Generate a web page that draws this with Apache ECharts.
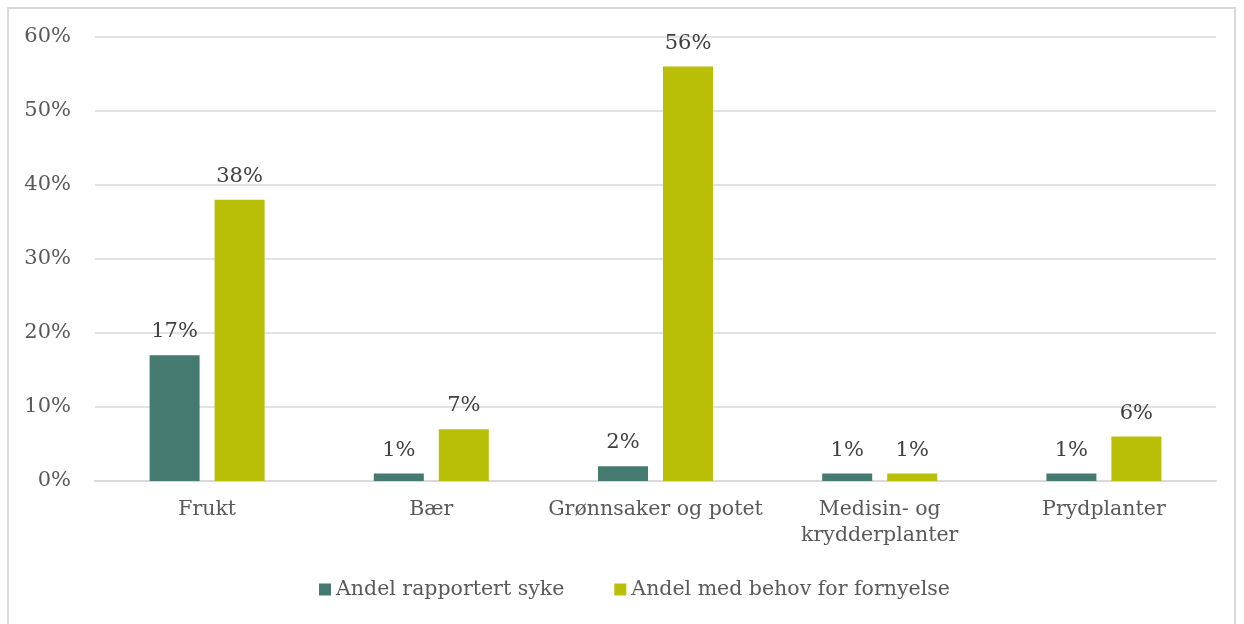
<!DOCTYPE html>
<html><head><meta charset="utf-8">
<script src="https://cdn.jsdelivr.net/npm/echarts@6/dist/echarts.min.js"></script>
<style>html,body{margin:0;padding:0;background:#fff}#c{width:1244px;height:624px}
#frame{position:absolute;left:7px;top:7px;width:1229px;height:620px;border:2px solid #d9d9d9;box-sizing:border-box;pointer-events:none}</style>
</head><body><div id="c"></div><div id="frame"></div>
<script>
const categories = ['Frukt', 'Bær', 'Grønnsaker og potet', 'Medisin- og\nkrydderplanter', 'Prydplanter'];
const seriesNames = ['Andel rapportert syke', 'Andel med behov for fornyelse'];
const sykeValues = [17, 1, 2, 1, 1];
const fornyelseValues = [38, 7, 56, 1, 6];
const yTicks = [0, 10, 20, 30, 40, 50, 60];

const FONT = 'DejaVu Serif';
const chart = echarts.init(document.getElementById('c'));
const labelCfg = {show: true, position: 'top', distance: 13, color: '#404040', fontFamily: FONT, fontSize: 21, formatter: p => p.value + '%'};
chart.setOption({
  animation: false,
  textStyle: {fontFamily: FONT},
  grid: {left: 95, right: 28, top: 37, bottom: 143, containLabel: false},
  legend: {
    data: seriesNames, left: 314, top: 574, itemWidth: 12, itemHeight: 12, itemGap: 50,
    icon: 'rect', textStyle: {fontFamily: FONT, fontSize: 20.5, color: '#595959'}
  },
  xAxis: {
    type: 'category', data: categories,
    axisLine: {lineStyle: {color: '#d9d9d9', width: 2}},
    axisTick: {show: false},
    axisLabel: {color: '#595959', fontFamily: FONT, fontSize: 20.5, margin: 16, lineHeight: 26, interval: 0}
  },
  yAxis: {
    type: 'value', min: yTicks[0], max: yTicks[yTicks.length - 1], interval: 10,
    axisLine: {show: false}, axisTick: {show: false},
    splitLine: {lineStyle: {color: '#d9d9d9', width: 1.5}},
    axisLabel: {color: '#595959', fontFamily: FONT, fontSize: 21, margin: 24, formatter: v => v + '%'}
  },
  series: [
    {name: seriesNames[0], type: 'bar', data: sykeValues, barWidth: 50, barGap: '30%', itemStyle: {color: '#447A70'}, label: labelCfg},
    {name: seriesNames[1], type: 'bar', data: fornyelseValues, barWidth: 50, itemStyle: {color: '#B8BF06'}, label: labelCfg}
  ]
});
</script></body></html>
